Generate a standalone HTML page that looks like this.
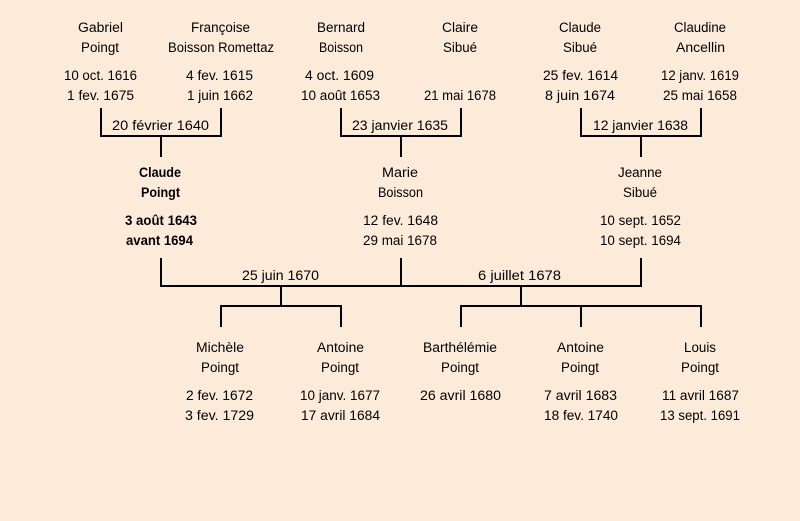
<!DOCTYPE html>
<html lang="fr"><head><meta charset="utf-8"><title>Généalogie Poingt</title>
<style>
html,body{margin:0;padding:0;background:#fcebd9}
svg{display:block}
text{font-family:"Comic Sans MS","Liberation Sans",sans-serif;font-size:13.5px;fill:#000}
.b{font-weight:bold}
</style></head><body>
<svg width="800" height="521" viewBox="0 0 800 521" xmlns="http://www.w3.org/2000/svg">
<rect width="800" height="521" fill="#fcebd9"/>
<g fill="#000">
<rect x="100" y="108" width="2" height="29"/><rect x="220" y="108" width="2" height="29"/><rect x="100" y="135" width="122" height="2"/><rect x="160" y="135" width="2" height="22"/>
<rect x="340" y="108" width="2" height="29"/><rect x="460" y="108" width="2" height="29"/><rect x="340" y="135" width="122" height="2"/><rect x="400" y="135" width="2" height="22"/>
<rect x="580" y="108" width="2" height="29"/><rect x="700" y="108" width="2" height="29"/><rect x="580" y="135" width="122" height="2"/><rect x="640" y="135" width="2" height="22"/>
<rect x="160" y="258" width="2" height="29"/><rect x="400" y="258" width="2" height="29"/><rect x="640" y="258" width="2" height="29"/><rect x="160" y="285" width="482" height="2"/>
<rect x="280" y="285" width="2" height="22"/><rect x="220" y="305" width="122" height="2"/><rect x="220" y="305" width="2" height="22"/><rect x="340" y="305" width="2" height="22"/>
<rect x="520" y="285" width="2" height="22"/><rect x="460" y="305" width="242" height="2"/><rect x="460" y="305" width="2" height="22"/><rect x="580" y="305" width="2" height="22"/><rect x="700" y="305" width="2" height="22"/>
</g>
<g lengthAdjust="spacingAndGlyphs">
<text x="78" y="32" textLength="45" lengthAdjust="spacingAndGlyphs">Gabriel</text>
<text x="81" y="52" textLength="38" lengthAdjust="spacingAndGlyphs">Poingt</text>
<text x="64" y="80" textLength="73" lengthAdjust="spacingAndGlyphs">10 oct. 1616</text>
<text x="67" y="100" textLength="67" lengthAdjust="spacingAndGlyphs">1 fev. 1675</text>
<text x="191" y="32" textLength="59" lengthAdjust="spacingAndGlyphs">Françoise</text>
<text x="168" y="52" textLength="106" lengthAdjust="spacingAndGlyphs">Boisson Romettaz</text>
<text x="186" y="80" textLength="67" lengthAdjust="spacingAndGlyphs">4 fev. 1615</text>
<text x="187" y="100" textLength="66" lengthAdjust="spacingAndGlyphs">1 juin 1662</text>
<text x="317" y="32" textLength="48" lengthAdjust="spacingAndGlyphs">Bernard</text>
<text x="319" y="52" textLength="44" lengthAdjust="spacingAndGlyphs">Boisson</text>
<text x="305" y="80" textLength="69" lengthAdjust="spacingAndGlyphs">4 oct. 1609</text>
<text x="301" y="100" textLength="79" lengthAdjust="spacingAndGlyphs">10 août 1653</text>
<text x="442" y="32" textLength="36" lengthAdjust="spacingAndGlyphs">Claire</text>
<text x="443" y="52" textLength="34" lengthAdjust="spacingAndGlyphs">Sibué</text>
<text x="424" y="100" textLength="72" lengthAdjust="spacingAndGlyphs">21 mai 1678</text>
<text x="559" y="32" textLength="42" lengthAdjust="spacingAndGlyphs">Claude</text>
<text x="563" y="52" textLength="34" lengthAdjust="spacingAndGlyphs">Sibué</text>
<text x="543" y="80" textLength="75" lengthAdjust="spacingAndGlyphs">25 fev. 1614</text>
<text x="545" y="100" textLength="70" lengthAdjust="spacingAndGlyphs">8 juin 1674</text>
<text x="674" y="32" textLength="52" lengthAdjust="spacingAndGlyphs">Claudine</text>
<text x="676" y="52" textLength="49" lengthAdjust="spacingAndGlyphs">Ancellin</text>
<text x="661" y="80" textLength="78" lengthAdjust="spacingAndGlyphs">12 janv. 1619</text>
<text x="663" y="100" textLength="74" lengthAdjust="spacingAndGlyphs">25 mai 1658</text>
<text x="112" y="130" textLength="97" lengthAdjust="spacingAndGlyphs">20 février 1640</text>
<text x="352" y="130" textLength="96" lengthAdjust="spacingAndGlyphs">23 janvier 1635</text>
<text x="593" y="130" textLength="95" lengthAdjust="spacingAndGlyphs">12 janvier 1638</text>
<text class="b" x="139" y="177" textLength="42" lengthAdjust="spacingAndGlyphs">Claude</text>
<text class="b" x="141" y="197" textLength="39" lengthAdjust="spacingAndGlyphs">Poingt</text>
<text class="b" x="125" y="225" textLength="72" lengthAdjust="spacingAndGlyphs">3 août 1643</text>
<text class="b" x="126" y="245" textLength="67" lengthAdjust="spacingAndGlyphs">avant 1694</text>
<text x="382" y="177" textLength="36" lengthAdjust="spacingAndGlyphs">Marie</text>
<text x="378" y="197" textLength="45" lengthAdjust="spacingAndGlyphs">Boisson</text>
<text x="363" y="225" textLength="75" lengthAdjust="spacingAndGlyphs">12 fev. 1648</text>
<text x="363" y="245" textLength="74" lengthAdjust="spacingAndGlyphs">29 mai 1678</text>
<text x="618" y="177" textLength="44" lengthAdjust="spacingAndGlyphs">Jeanne</text>
<text x="623" y="197" textLength="34" lengthAdjust="spacingAndGlyphs">Sibué</text>
<text x="600" y="225" textLength="81" lengthAdjust="spacingAndGlyphs">10 sept. 1652</text>
<text x="600" y="245" textLength="81" lengthAdjust="spacingAndGlyphs">10 sept. 1694</text>
<text x="242" y="280" textLength="77" lengthAdjust="spacingAndGlyphs">25 juin 1670</text>
<text x="478" y="280" textLength="83" lengthAdjust="spacingAndGlyphs">6 juillet 1678</text>
<text x="196" y="352" textLength="48" lengthAdjust="spacingAndGlyphs">Michèle</text>
<text x="201" y="372" textLength="38" lengthAdjust="spacingAndGlyphs">Poingt</text>
<text x="186" y="400" textLength="67" lengthAdjust="spacingAndGlyphs">2 fev. 1672</text>
<text x="185" y="420" textLength="69" lengthAdjust="spacingAndGlyphs">3 fev. 1729</text>
<text x="317" y="352" textLength="47" lengthAdjust="spacingAndGlyphs">Antoine</text>
<text x="321" y="372" textLength="38" lengthAdjust="spacingAndGlyphs">Poingt</text>
<text x="300" y="400" textLength="80" lengthAdjust="spacingAndGlyphs">10 janv. 1677</text>
<text x="301" y="420" textLength="79" lengthAdjust="spacingAndGlyphs">17 avril 1684</text>
<text x="423" y="352" textLength="74" lengthAdjust="spacingAndGlyphs">Barthélémie</text>
<text x="441" y="372" textLength="38" lengthAdjust="spacingAndGlyphs">Poingt</text>
<text x="420" y="400" textLength="81" lengthAdjust="spacingAndGlyphs">26 avril 1680</text>
<text x="557" y="352" textLength="47" lengthAdjust="spacingAndGlyphs">Antoine</text>
<text x="561" y="372" textLength="38" lengthAdjust="spacingAndGlyphs">Poingt</text>
<text x="544" y="400" textLength="73" lengthAdjust="spacingAndGlyphs">7 avril 1683</text>
<text x="544" y="420" textLength="74" lengthAdjust="spacingAndGlyphs">18 fev. 1740</text>
<text x="684" y="352" textLength="32" lengthAdjust="spacingAndGlyphs">Louis</text>
<text x="681" y="372" textLength="38" lengthAdjust="spacingAndGlyphs">Poingt</text>
<text x="662" y="400" textLength="77" lengthAdjust="spacingAndGlyphs">11 avril 1687</text>
<text x="660" y="420" textLength="80" lengthAdjust="spacingAndGlyphs">13 sept. 1691</text>
</g>
</svg>
</body></html>
